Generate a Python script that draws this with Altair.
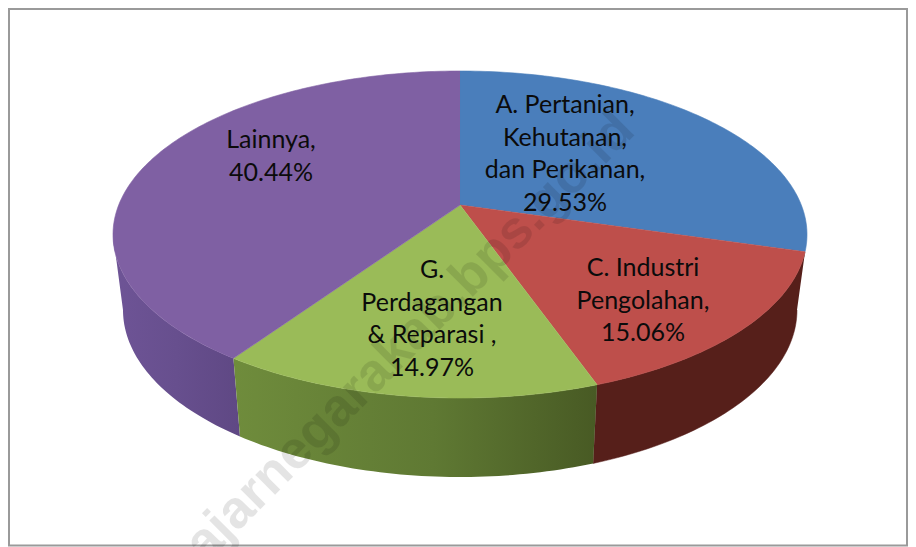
import math
import altair as alt
import pandas as pd

# Values (share of the whole, %) in clockwise order from 12 o'clock
categories = ["A. Pertanian, Kehutanan, dan Perikanan", "C. Industri Pengolahan",
              "G. Perdagangan & Reparasi", "Lainnya"]
shares = [29.53, 15.06, 14.97, 40.44]
top_colors = ["#4a7ebb", "#be4f4b", "#9abb58", "#7f60a3"]
label_lines = [["A. Pertanian,", "Kehutanan,", "dan Perikanan,", "29.53%"],
               ["C. Industri", "Pengolahan,", "15.06%"],
               ["G.", "Perdagangan", "& Reparasi ,", "14.97%"],
               ["Lainnya,", "40.44%"]]
label_centres = [(565, 105), (643, 268), (432, 270), (271, 140)]
LINE_STEP = 32.5
watermark = "ajarnegarakab.bps.go.id"

# Perspective of the disc, in page pixels
CX, TOP_CY, TOP_RX, TOP_RY = 460, 234.5, 347, 163.5
BOT_CY, BOT_RX, BOT_RY = 310, 337, 167
K = 0.18
TANGENT = math.degrees(math.acos(K))  # angle off the vertical where the rim is widest


def project(deg, r, cy, rx, ry):
    u, v = r * math.sin(math.radians(deg)), r * math.cos(math.radians(deg))
    den = 1 + K * v
    return CX + rx * math.sqrt(1 - K * K) * u / den, cy - ry * (v + K) / den


def arc(a, b, cy, rx, ry):
    n = max(2, int(abs(b - a) / 1.0) + 1)
    return [project(a + (b - a) * i / n, 1, cy, rx, ry) for i in range(n + 1)]


def frame(points):
    return pd.DataFrame({"x": [p[0] for p in points], "y": [p[1] for p in points],
                         "i": list(range(len(points)))})


X = alt.X("x:Q", scale=alt.Scale(domain=[8, 908], nice=False, zero=False), axis=None)
Y = alt.Y("y:Q", scale=alt.Scale(domain=[547, 8], nice=False, zero=False), axis=None)


def poly(points, **mark):
    return alt.Chart(frame(points)).mark_line(clip=False, **mark).encode(
        x=X, y=Y, order=alt.Order("i:Q"))


def grad(stops):
    return alt.Gradient(gradient="linear", x1=0, x2=1, y1=0, y2=0,
                        stops=[alt.GradientStop(offset=o, color=c) for o, c in stops])


edges = [0]
for s in shares:
    edges.append(edges[-1] + s * 3.6)

layers = []

# Frame
layers.append(alt.Chart(pd.DataFrame({"x": [9], "x2": [907], "y": [9], "y2": [545.5]})).mark_rect(
    fill="white", stroke="#9a9a9a", strokeWidth=2).encode(x=X, x2="x2:Q", y=Y, y2="y2:Q"))

# Side walls of the visible slices
right_tangent, left_tangent = 180 - TANGENT, 180 + TANGENT
red_wall = arc(edges[1], edges[2], TOP_CY, TOP_RX, TOP_RY) + arc(edges[2], right_tangent, BOT_CY, BOT_RX, BOT_RY)
green_wall = arc(edges[2], edges[3], TOP_CY, TOP_RX, TOP_RY) + arc(edges[3], edges[2], BOT_CY, BOT_RX, BOT_RY)
purple_wall = arc(edges[3], left_tangent, TOP_CY, TOP_RX, TOP_RY) + arc(left_tangent, edges[3], BOT_CY, BOT_RX, BOT_RY)
layers.append(poly(red_wall, fill="#561f1a", stroke="#561f1a", strokeWidth=0.5))
layers.append(poly(purple_wall, fill=grad([(0, "#6e5496"), (0.5, "#674f8e"), (1, "#5f4884")]), strokeWidth=0))
layers.append(poly(green_wall, fill=grad([(0, "#6f8c3c"), (0.55, "#5f7933"), (1, "#485a24")]), strokeWidth=0))

# Top face
for a, b, c in zip(edges[:-1], edges[1:], top_colors):
    layers.append(poly([project(0, 0, TOP_CY, TOP_RX, TOP_RY)] + arc(a, b, TOP_CY, TOP_RX, TOP_RY),
                       fill=c, stroke=c, strokeWidth=0.6))

# Watermark
layers.append(alt.Chart(pd.DataFrame({"x": [410], "y": [337], "t": [watermark]})).mark_text(
    angle=315, font="Liberation Sans", fontWeight="bold", fontSize=53, color="#000000",
    opacity=0.10, align="center", baseline="middle").encode(x=X, y=Y, text="t:N"))

# Labels
rows = []
for lines, (cx, cy) in zip(label_lines, label_centres):
    for n, line in enumerate(lines):
        rows.append({"x": cx, "y": cy + n * LINE_STEP, "t": line})
layers.append(alt.Chart(pd.DataFrame(rows)).mark_text(
    font="Lato", fontSize=25, color="#0b0b0b", align="center", baseline="middle").encode(
    x=X, y=Y, text="t:N"))

chart = alt.layer(*layers).properties(width=900, height=539, padding=0,
                                      autosize=alt.AutoSizeParams(type="none")
                                      ).configure_view(stroke=None)
chart.save("out.html", embed_options={"renderer": "svg", "actions": False})
